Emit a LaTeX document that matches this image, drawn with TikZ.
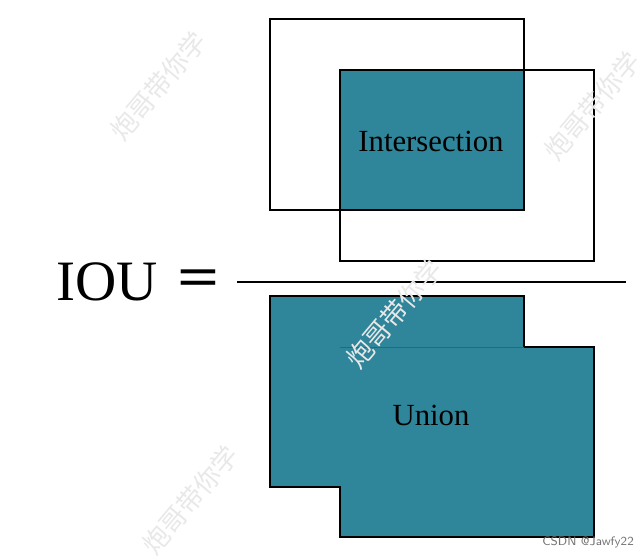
\documentclass[tikz,border=0pt]{standalone}
\usepackage{fontspec}
\setmainfont{Liberation Serif}
\newfontfamily\cjkfont{Noto Sans CJK SC}
\usetikzlibrary{positioning}
\definecolor{iouteal}{RGB}{47,133,153}
\tikzset{
  boxline/.style={draw=black, line width=1.1pt},
  wmark/.style={font=\cjkfont\fontsize{15}{15}\selectfont, text=black!9, rotate=50}
}

\begin{document}
\begin{tikzpicture}[x=0.02cm, y=-0.02cm]
      \useasboundingbox (0,0) rectangle (643,558);
      % numerator: two boxes and their overlap
      \fill[iouteal] (340,70) rectangle (524,210);
      \draw[boxline] (270,19) rectangle (524,210);
      \draw[boxline] (340,70) rectangle (594,261);
      \node (inter) at (431,141) {\fontsize{17.5}{20}\selectfont Intersection};
      % fraction bar
      \node[anchor=west] (iou) at (50,282) {\fontsize{32.5}{38}\selectfont IOU};
      \node[anchor=west, inner sep=0pt] (eq) at (177,283) {\scalebox{1.3}[1]{\fontsize{32.5}{38}\selectfont\bfseries =}};
      \coordinate (barl) at (237,282);
      \coordinate (barr) at (626,282);
      \draw[line width=1.1pt] (barl) -- (barr);
      % denominator: union
      \draw[boxline, fill=iouteal] (270,296) -- (524,296) -- (524,347) -- (594,347)
            -- (594,537) -- (340,537) -- (340,487) -- (270,487) -- cycle;
      \draw[iouteal!80!black, line width=0.4pt] (340,347) -- (524,347);
      \node (union) at (431,415) {\fontsize{17.5}{20}\selectfont Union};
      % watermarks
      \node[wmark] (wm1) at (158,86) {炮哥带你学};
      \node[wmark] (wm2) at (592,106) {炮哥带你学};
      \node[wmark] (wm3) at (394,314) {炮哥带你学};
      \node[wmark] (wm4) at (190,500) {炮哥带你学};
      \node[anchor=south east, font=\sffamily\fontsize{7}{8}\selectfont, text=black!55] (csdn) at (640,554) {CSDN @Jawfy22};
  \end{tikzpicture}
\end{document}
